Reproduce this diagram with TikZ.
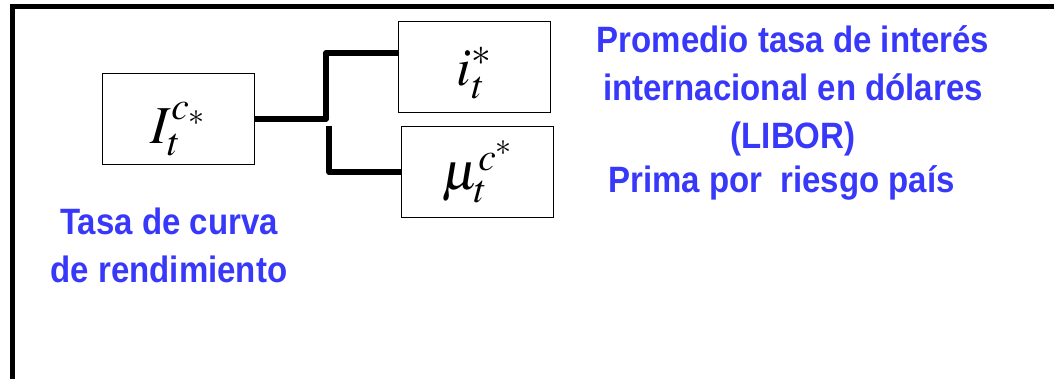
\documentclass[tikz,border=0pt]{standalone}
\usepackage{mathptmx}
\usepackage{fontspec}
\newfontfamily\labelfont[FakeStretch=0.9]{Liberation Sans}
\definecolor{labelblue}{RGB}{56,56,250}

\tikzset{
  varbox/.style={draw, line width=1.2pt, inner sep=0pt,
    minimum width=114pt, minimum height=68pt,
    font=\fontsize{40}{44}\selectfont},
  link/.style={line width=4.1pt, line join=round},
  linkshadow/.style={link, black!30, opacity=0.6, shift={(1.5,3)}},
  caption/.style={text=labelblue, inner sep=0pt, align=center,
    font=\labelfont\bfseries\fontsize{27.5}{36}\selectfont},
}

\begin{document}
\begin{tikzpicture}[x=0.75pt,y=-0.75pt]
  \useasboundingbox (0,0) rectangle (1054,379);
  % Open frame: left and top edges only.
  \draw[line width=3.75pt] (12.5,379) -- (12.5,6.5) -- (1054,6.5);
  % Variable boxes (formulas sit a little low in the first two).
  \node[varbox] (rate) at (178.5,119)
    {\raisebox{-7.5pt}[\height][\depth]{$I_t^{c_*}$}};
  \node[varbox] (libor) at (474.5,67)
    {\raisebox{-4.5pt}[\height][\depth]{$i_t^{*}$}};
  \node[varbox] (risk) at (477.5,172) {$\mu_t^{c^*}$};
  % Fork joining the rate to its two parts, with a soft shadow.
  \coordinate (forktop) at (326,53);
  \coordinate (forklow) at (329,126);
  \draw[linkshadow] (rate.east) -| (forktop) -- (forktop -| libor.west);
  \draw[linkshadow] (forklow) |- (risk.west);
  \draw[link] (rate.east) -| (forktop) -- (forktop -| libor.west);
  \draw[link] (forklow) |- (risk.west);
  % Captions (base = baseline of the last line).
  \node[caption, anchor=base] (avg) at (793,148)
    {Promedio tasa de interés\\internacional en dólares\\(LIBOR)};
  \node[caption, anchor=base west] (prem) at (608,192) {Prima por\ \ riesgo país};
  \node[caption, anchor=base] (curve) at (169,282) {Tasa de curva\\de rendimiento};
\end{tikzpicture}
\end{document}
